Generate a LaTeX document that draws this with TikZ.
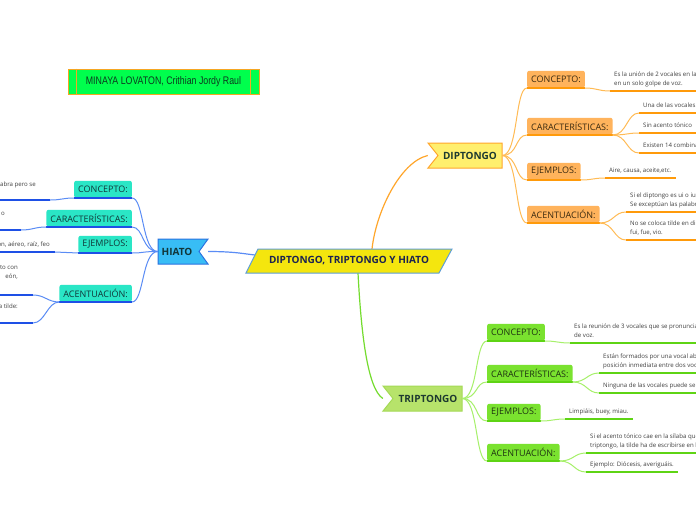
\documentclass[tikz,border=0pt]{standalone}
\usepackage{fontspec}
\setmainfont{Open Sans}
\newfontfamily\condfont[FakeStretch=0.8]{Liberation Sans}
\usetikzlibrary{backgrounds}
\definecolor{dipfill}{HTML}{FFB35C}
\definecolor{dipunder}{HTML}{FF9A0A}
\definecolor{dipline}{HTML}{FFBB55}
\definecolor{diptext}{HTML}{3A2A10}
\definecolor{trifill}{HTML}{7AE22F}
\definecolor{triunder}{HTML}{5ED414}
\definecolor{triline}{HTML}{A6F06A}
\definecolor{tritext}{HTML}{1D3311}
\definecolor{hiafill}{HTML}{2AE6C6}
\definecolor{hiaunder}{HTML}{1E50E6}
\definecolor{hialine}{HTML}{5A8CF5}
\definecolor{hiatext}{HTML}{113638}
\definecolor{dmainfill}{HTML}{FFEF6E}
\definecolor{dmaindraw}{HTML}{FFA62B}
\definecolor{tmainfill}{HTML}{B7E36B}
\definecolor{tmaindraw}{HTML}{A4DA55}
\definecolor{hmainfill}{HTML}{38BDF5}
\definecolor{hmaindraw}{HTML}{2A72E0}
\definecolor{cfill}{HTML}{F4E60E}
\definecolor{cdraw}{HTML}{5D9ED6}
\definecolor{ctext}{HTML}{1B2350}
\definecolor{maintext}{HTML}{1E3A30}
\definecolor{authfill}{HTML}{00FF4D}
\definecolor{authdraw}{HTML}{F5A623}
\definecolor{authtext}{HTML}{0D3A1F}
\definecolor{leaftext}{HTML}{3F3F3F}
\begin{document}
\begin{tikzpicture}[x=1pt,y=-1pt,
  subnode/.style={font=\fontsize{9}{11}\selectfont, inner xsep=4pt, inner ysep=0pt, minimum height=17pt, rounded corners=2pt},
  dsub/.style={subnode, fill=dipfill, text=diptext, anchor=south west},
  tsub/.style={subnode, fill=trifill, text=tritext, anchor=south west},
  hsub/.style={subnode, fill=hiafill, text=hiatext, anchor=south east},
  leaf/.style={font=\fontsize{6.1}{9}\selectfont, text=leaftext, align=left, inner xsep=4pt, inner ysep=3pt, anchor=south west, execute at end node=\strut},
  hleaf/.style={font=\fontsize{6.1}{9}\selectfont, text=leaftext, align=right, inner sep=0pt, anchor=north east, execute at begin node=\strut},
  mainlbl/.style={font=\fontsize{10}{12}\selectfont\bfseries, inner sep=0pt, minimum height=25pt},
  dconn/.style={draw=dipline, line width=1pt},
  dunder/.style={draw=dipunder, line width=1.5pt},
  tconn/.style={draw=triline, line width=1pt},
  tunder/.style={draw=triunder, line width=1.5pt},
  hconn/.style={draw=hialine, line width=1pt},
  hunder/.style={draw=hiaunder, line width=1.5pt},
]
\useasboundingbox (0,0) rectangle (696,520);
\clip (0,0) rectangle (696,520);
\begin{scope}[on background layer]
\fill[white] (0,0) rectangle (696,520);
\end{scope}

% author box
\node[draw=authdraw, fill=authfill, line width=0.8pt, minimum width=191pt, minimum height=25pt, inner sep=0pt,
  text=authtext, font=\condfont\fontsize{11}{13}\selectfont] (auth) at (163.5,81.5) {MINAYA LOVATON, Crithian Jordy Raul};
\draw[authdraw, line width=0.8pt] ([xshift=9pt]auth.north west) -- ([xshift=9pt]auth.south west);
\draw[authdraw, line width=0.8pt] ([xshift=-9pt]auth.north east) -- ([xshift=-9pt]auth.south east);

% main shapes
\filldraw[fill=cfill, draw=cdraw, line width=1pt] (258,249) -- (452,249) -- (439,273) -- (246,273) -- cycle;
\filldraw[fill=dmainfill, draw=dmaindraw, line width=1pt] (428,143) -- (502,143) -- (502,168) -- (428,168) -- (438,155.5) -- cycle;
\filldraw[fill=tmainfill, draw=tmaindraw, line width=1pt] (383,386) -- (462,386) -- (462,411) -- (383,411) -- (393,398.5) -- cycle;
\filldraw[fill=hmainfill, draw=hmaindraw, line width=1pt] (158,239) -- (208,239) -- (199,251.5) -- (208,264) -- (158,264) -- cycle;
\node[mainlbl, text=ctext, minimum width=206pt] (c) at (349,261) {DIPTONGO, TRIPTONGO Y HIATO};
\node[mainlbl, text=maintext, minimum width=74pt] (dip) at (465,155.5) {\hspace*{10pt}DIPTONGO};
\node[mainlbl, text=maintext, minimum width=79pt] (tri) at (422.5,398.5) {\hspace*{11pt}TRIPTONGO};
\node[mainlbl, text=hiatext, minimum width=50pt] (hia) at (183,251.5) {HIATO\hspace*{12pt}};

\coordinate (cT) at (372,249);
\coordinate (cB) at (358,273);
\coordinate (cL) at (255,255);

\begin{scope}[on background layer]
\draw[dconn, draw=dmaindraw, line width=1.2pt] (cT) .. controls (376,212) and (400,162) .. (dip.west);
\draw[tconn, draw=triunder!70!triline, line width=1.2pt] (cB) .. controls (361,330) and (367,388) .. (tri.west);
\draw[hconn, line width=1.2pt] (hia.east) .. controls (235,251.5) and (245,254) .. (cL);
\end{scope}

% ---------------- DIPTONGO ----------------
\node[dsub] (d1) at (527,88) {CONCEPTO:};
\node[dsub] (d2) at (527,135) {CARACTERÍSTICAS:};
\node[dsub] (d3) at (527,180) {EJEMPLOS:};
\node[dsub] (d4) at (527,223) {ACENTUACIÓN:};
\foreach \n in {d1,d2,d3,d4}{
  \draw[dconn] (dip.east) .. controls +(16,0) and +(-12,0) .. (\n.south west);
  \draw[dunder] (\n.south west) -- (\n.south east);
}
\node[leaf] (dl1) at (610,91) {Es la unión de 2 vocales en la\\en un solo golpe de voz.};
\node[leaf] (dl2a) at (639,113) {Una de las vocales};
\node[leaf] (dl2b) at (639,133) {Sin acento tónico};
\node[leaf] (dl2c) at (639,153) {Existen 14 combina};
\node[leaf] (dl3) at (605,178) {Aire, causa, aceite,etc.};
\node[leaf] (dl4a) at (626,212) {Si el diptongo es ui o iu,\\Se exceptúan las palabr};
\node[leaf] (dl4b) at (626,240) {No se coloca tilde en dip\\fui, fue, vio.};
\draw[dconn] (d1.south east) .. controls +(12,0) and +(-12,0) .. (dl1.south west);
\draw[dconn] (d2.south east) .. controls +(14,0) and +(-12,0) .. (dl2a.south west);
\draw[dconn] (d2.south east) .. controls +(14,0) and +(-12,0) .. (dl2b.south west);
\draw[dconn] (d2.south east) .. controls +(14,0) and +(-12,0) .. (dl2c.south west);
\draw[dconn] (d3.south east) .. controls +(12,0) and +(-12,0) .. (dl3.south west);
\draw[dconn] (d4.south east) .. controls +(14,0) and +(-12,0) .. (dl4a.south west);
\draw[dconn] (d4.south east) .. controls +(14,0) and +(-12,0) .. (dl4b.south west);
\foreach \n in {dl1,dl2a,dl2b,dl2c,dl3,dl4a,dl4b}{
  \draw[dunder] (\n.south west) -- (\n.south east);
}

% ---------------- TRIPTONGO ----------------
\node[tsub] (t1) at (487,341) {CONCEPTO:};
\node[tsub] (t2) at (487,382) {CARACTERÍSTICAS:};
\node[tsub] (t3) at (487,421) {EJEMPLOS:};
\node[tsub] (t4) at (487,461) {ACENTUACIÓN:};
\foreach \n in {t1,t2,t3,t4}{
  \draw[tconn] (tri.east) .. controls +(16,0) and +(-12,0) .. (\n.south west);
  \draw[tunder] (\n.south west) -- (\n.south east);
}
\node[leaf] (tl1) at (570,343) {Es la reunión de 3 vocales que se pronuncia\\de voz.};
\node[leaf] (tl2a) at (599,373) {Están formados por una vocal abi\\posición inmediata entre dos voca};
\node[leaf] (tl2b) at (599,393) {Ninguna de las vocales puede ser};
\node[leaf] (tl3) at (565,419) {Limpiáis, buey, miau.};
\node[leaf] (tl4a) at (586,453) {Si el acento tónico cae en la sílaba que\\triptongo, la tilde ha de escribirse en la};
\node[leaf] (tl4b) at (586,472) {Ejemplo: Diócesis, averiguáis.};
\draw[tconn] (t1.south east) .. controls +(12,0) and +(-12,0) .. (tl1.south west);
\draw[tconn] (t2.south east) .. controls +(14,0) and +(-12,0) .. (tl2a.south west);
\draw[tconn] (t2.south east) .. controls +(14,0) and +(-12,0) .. (tl2b.south west);
\draw[tconn] (t3.south east) .. controls +(12,0) and +(-12,0) .. (tl3.south west);
\draw[tconn] (t4.south east) .. controls +(14,0) and +(-12,0) .. (tl4a.south west);
\draw[tconn] (t4.south east) .. controls +(14,0) and +(-12,0) .. (tl4b.south west);
\foreach \n in {tl1,tl2a,tl2b,tl3,tl4a,tl4b}{
  \draw[tunder] (\n.south west) -- (\n.south east);
}

% ---------------- HIATO ----------------
\node[hsub] (h1) at (132,198) {CONCEPTO:};
\node[hsub] (h2) at (132,227) {CARACTERÍSTICAS:};
\node[hsub] (h3) at (132,253) {EJEMPLOS:};
\node[hsub] (h4) at (132,302) {ACENTUACIÓN:};
\foreach \n in {h1,h2,h3,h4}{
  \draw[hconn] (hia.west) .. controls +(-16,0) and +(12,0) .. (\n.south east);
  \draw[hunder] (\n.south east) -- (\n.south west);
}
\coordinate (hl1e) at (50,200);   \coordinate (hl1s) at (-5,200);
\coordinate (hl2e) at (21,230);   \coordinate (hl2s) at (-5,230);
\coordinate (hl3e) at (55,252);   \coordinate (hl3s) at (-5,252);
\coordinate (hl4ae) at (33,295);  \coordinate (hl4as) at (-5,295);
\coordinate (hl4be) at (33,323);  \coordinate (hl4bs) at (-5,323);
\node[hleaf] (hl1) at (36,180.3) {labra pero se};
\node[hleaf] (hl2) at (5,208.7) {o};
\node[hleaf] (hl3) at (50,240.3) {ión, aéreo, raíz, feo};
\node[hleaf] (hl4a) at (18,265.3) {to con\\eón,};
\node[hleaf] (hl4b) at (18,302.3) {a tilde:};
\draw[hconn] (h1.south west) .. controls +(-12,0) and +(12,0) .. (hl1e);
\draw[hconn] (h2.south west) .. controls +(-12,0) and +(12,0) .. (hl2e);
\draw[hconn] (h3.south west) .. controls +(-12,0) and +(12,0) .. (hl3e);
\draw[hconn] (h4.south west) .. controls +(-12,0) and +(12,0) .. (hl4ae);
\draw[hconn] (h4.south west) .. controls +(-12,0) and +(12,0) .. (hl4be);
\draw[hunder] (hl1e) -- (hl1s);
\draw[hunder] (hl2e) -- (hl2s);
\draw[hunder] (hl3e) -- (hl3s);
\draw[hunder] (hl4ae) -- (hl4as);
\draw[hunder] (hl4be) -- (hl4bs);
\end{tikzpicture}
\end{document}
